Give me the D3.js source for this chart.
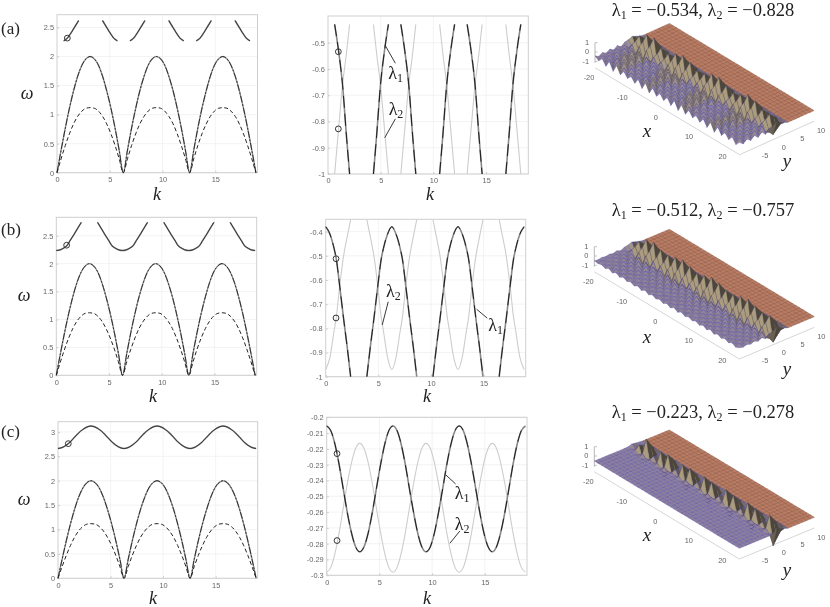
<!DOCTYPE html>
<html><head><meta charset="utf-8">
<script src="https://cdn.jsdelivr.net/npm/d3@7"></script>
<style>html,body{margin:0;background:#fff}svg{display:block;filter:blur(.45px)}
.tk{font:7.4px "Liberation Sans",sans-serif;fill:#666}
.lab{font-family:"Liberation Serif",serif;fill:#222}</style></head>
<body><svg id="c" width="830" height="607"></svg>
<script>
// ---------- values ----------
const kGrid=[0,.39,.79,1.18,1.57,1.96,2.36,2.75,3.14,3.53,3.93,4.32,4.71,5.11,5.50,5.89,6.28,6.68,7.07,7.46,7.85,8.25,8.64,9.03,9.42,9.82,10.21,10.60,11.00,11.39,11.78,12.17,12.57,12.96,13.35,13.74,14.14,14.53,14.92,15.32,15.71,16.10,16.49,16.89,17.28,17.67,18.06,18.46,18.85];
const omegaOptic=[0,.39,.77,1.11,1.41,1.66,1.85,1.96,2,1.96,1.85,1.66,1.41,1.11,.77,.39,0,.39,.77,1.11,1.41,1.66,1.85,1.96,2,1.96,1.85,1.66,1.41,1.11,.77,.39,0,.39,.77,1.11,1.41,1.66,1.85,1.96,2,1.96,1.85,1.66,1.41,1.11,.77,.39,0];
const omegaAcoustic=[0,.24,.47,.67,.84,.97,1.06,1.11,1.12,1.11,1.06,.97,.84,.67,.47,.24,0,.24,.47,.67,.84,.97,1.06,1.11,1.12,1.11,1.06,.97,.84,.67,.47,.24,0,.24,.47,.67,.84,.97,1.06,1.11,1.12,1.11,1.06,.97,.84,.67,.47,.24,0];
// panel (a): pieces separated by null
const kA=[.63,1,1.38,1.75,2.05,null,4.31,4.61,4.98,5.36,5.73,null,6.91,7.28,7.66,8.03,8.33,null,10.59,10.89,11.26,11.64,12.01,null,13.2,13.57,13.95,14.32,14.62,null,16.87,17.17,17.54,17.92,18.29];
const omegaTopA=[2.27,2.32,2.42,2.53,2.62,null,2.62,2.53,2.42,2.32,2.27,null,2.27,2.32,2.42,2.53,2.62,null,2.62,2.53,2.42,2.32,2.27,null,2.27,2.32,2.42,2.53,2.62,null,2.62,2.53,2.42,2.32,2.27];
const lambda1A=[-.43,-.53,-.66,-.855,-1,null,-1,-.855,-.66,-.53,-.43,null,-.43,-.53,-.66,-.855,-1,null,-1,-.855,-.66,-.53,-.43,null,-.43,-.53,-.66,-.855,-1,null,-1,-.855,-.66,-.53,-.43];
const lambda2A=[-1,-.83,-.66,-.54,-.43,null,-.43,-.54,-.66,-.83,-1,null,-1,-.83,-.66,-.54,-.43,null,-.43,-.54,-.66,-.83,-1,null,-1,-.83,-.66,-.54,-.43,null,-.43,-.54,-.66,-.83,-1];
// panel (b)
const kB=[0,.4,.8,1,1.33,1.7,2.05,2.37,null,3.91,4.23,4.58,4.95,5.28,5.48,5.88,6.28,6.68,7.08,7.28,7.61,7.98,8.33,8.65,null,10.19,10.51,10.86,11.23,11.56,11.76,12.16,12.57,12.97,13.37,13.57,13.9,14.27,14.62,14.94,null,16.48,16.8,17.15,17.52,17.85,18.05,18.45,18.85];
const omegaTopB=[2.235,2.25,2.29,2.32,2.42,2.53,2.64,2.74,null,2.74,2.64,2.53,2.42,2.32,2.29,2.25,2.235,2.25,2.29,2.32,2.42,2.53,2.64,2.74,null,2.74,2.64,2.53,2.42,2.32,2.29,2.25,2.235,2.25,2.29,2.32,2.42,2.53,2.64,2.74,null,2.74,2.64,2.53,2.42,2.32,2.29,2.25,2.235];
const lambda1B=[-.38,-.41,-.47,-.512,-.625,-.76,-.88,-1,null,-1,-.88,-.76,-.625,-.512,-.47,-.41,-.38,-.41,-.47,-.512,-.625,-.76,-.88,-1,null,-1,-.88,-.76,-.625,-.512,-.47,-.41,-.38,-.41,-.47,-.512,-.625,-.76,-.88,-1,null,-1,-.88,-.76,-.625,-.512,-.47,-.41,-.38];
const lambda2B=[-.97,-.92,-.81,-.757,-.625,-.5,-.42,-.35,null,-.35,-.42,-.5,-.625,-.757,-.81,-.92,-.97,-.92,-.81,-.757,-.625,-.5,-.42,-.35,null,-.35,-.42,-.5,-.625,-.757,-.81,-.92,-.97,-.92,-.81,-.757,-.625,-.5,-.42,-.35,null,-.35,-.42,-.5,-.625,-.757,-.81,-.92,-.97];
// panel (c), on kGrid
const omegaTopC=[2.66,2.68,2.73,2.8,2.89,2.98,3.05,3.1,3.12,3.1,3.05,2.98,2.89,2.8,2.73,2.68,2.66,2.68,2.73,2.8,2.89,2.98,3.05,3.1,3.12,3.1,3.05,2.98,2.89,2.8,2.73,2.68,2.66,2.68,2.73,2.8,2.89,2.98,3.05,3.1,3.12,3.1,3.05,2.98,2.89,2.8,2.73,2.68,2.66];
const lambda1C=[-.2055,-.2085,-.2172,-.23,-.2453,-.2605,-.2734,-.2821,-.2851,-.2821,-.2734,-.2605,-.2453,-.23,-.2172,-.2085,-.2055,-.2085,-.2172,-.23,-.2453,-.2605,-.2734,-.2821,-.2851,-.2821,-.2734,-.2605,-.2453,-.23,-.2172,-.2085,-.2055,-.2085,-.2172,-.23,-.2453,-.2605,-.2734,-.2821,-.2851,-.2821,-.2734,-.2605,-.2453,-.23,-.2172,-.2085,-.2055];
const lambda2C=[-.298,-.295,-.286,-.273,-.2573,-.2417,-.2285,-.2196,-.2165,-.2196,-.2285,-.2417,-.2573,-.273,-.286,-.295,-.298,-.295,-.286,-.273,-.2573,-.2417,-.2285,-.2196,-.2165,-.2196,-.2285,-.2417,-.2573,-.273,-.286,-.295,-.298,-.295,-.286,-.273,-.2573,-.2417,-.2285,-.2196,-.2165,-.2196,-.2285,-.2417,-.2573,-.273,-.286,-.295,-.298];
const kTicks=[0,5,10,15];
const omegaTicksAB=[0,.5,1,1.5,2,2.5], omegaTicksAB_txt=["0","0.5","1","1.5","2","2.5"];
const omegaTicksC=[0,.5,1,1.5,2,2.5,3], omegaTicksC_txt=["0","0.5","1","1.5","2","2.5","3"];
const lamTicksA=[-1,-.9,-.8,-.7,-.6,-.5], lamTicksA_txt=["-1","-0.9","-0.8","-0.7","-0.6","-0.5"];
const lamTicksB=[-1,-.9,-.8,-.7,-.6,-.5,-.4], lamTicksB_txt=["-1","-0.9","-0.8","-0.7","-0.6","-0.5","-0.4"];
const lamTicksC=[-.3,-.29,-.28,-.27,-.26,-.25,-.24,-.23,-.22,-.21,-.2], lamTicksC_txt=["-0.3","-0.29","-0.28","-0.27","-0.26","-0.25","-0.24","-0.23","-0.22","-0.21","-0.2"];
const rowLabels=["(a)","(b)","(c)"];
const marked=[[.98,2.317,-.534,-.828],[.98,2.33,-.512,-.757],[.98,2.76,-.223,-.278]];
const titleVals=[["−0.534","−0.828"],["−0.512","−0.757"],["−0.223","−0.278"]];
// surface tables: x = -20..20 (41), y = -10..10 (21)
const xAxisGrid=d3.range(-20,21), yAxisGrid=d3.range(-10,11);
const profileXA=[.25,-.35,.55,-.6,.9,-.75,.95,-.55,.6,-.4,.5,-.5,.8,-.7,.95,-.7,.8,-.5,.55,-.45,.65,-.6,.9,-.75,.95,-.6,.7,-.45,.5,-.45,.7,-.65,.95,-.75,.85,-.5,.55,-.45,.55,-.6,.35];
const profileXB=[.2,-.3,.5,-.65,.9,-.8,1,-.7,.8,-.6,.75,-.7,.9,-.8,1,-.75,.85,-.6,.7,-.65,.85,-.8,1,-.8,.9,-.65,.75,-.6,.75,-.7,.9,-.8,1,-.8,.85,-.6,.7,-.65,.8,-.75,.35];
const profileXC=[.1,-.1,.3,-.5,.95,-.4,.15,-.3,.7,-.9,.8,-.35,.15,-.3,.7,-.85,.75,-.3,.15,-.3,.8,-.9,.7,-.3,.1,-.35,.8,-.9,.7,-.3,.15,-.35,.8,-.9,.7,-.3,.15,-.4,.85,-.95,.3];
const profileYA=[.5,-.5,.5,-.5,.55,-.55,.6,-.65,.7,1,1.7,1,.4,0,0,0,0,0,0,0,0];
const profileYB=[.15,-.15,.18,-.2,.22,-.28,.35,-.45,.6,.95,1.7,1,.4,0,0,0,0,0,0,0,0];
const profileYC=[0,0,0,0,0,0,0,0,0,.2,1.7,1,.4,0,0,0,0,0,0,0,0];
const zTicks=[-1,0,1], xSurfTicks=[-20,-10,0,10,20], ySurfTicks=[-5,0,5,10];
const surfTitleY=[15.5,216,418], surfXLabelY=[137,343,541], surfYLabelY=[167,375,576];
// ---------- drawing ----------
const svg=d3.select("#c");
const defined=d=>d[0]!=null&&d[1]!=null;
const lineOf=(x,y)=>d3.line().defined(defined).x(d=>x(d[0])).y(d=>y(d[1])).curve(d3.curveMonotoneX);
const zip=(a,b)=>a.map((v,i)=>[v,b[i]]);

function frame(p,yTicks,yTxt){
  const x=d3.scaleLinear([0,19],[p.l,p.r]), y=d3.scaleLinear(p.yd,[p.b,p.t]);
  const g=svg.append("g");
  g.append("g").selectAll("line").data(kTicks.slice(1)).join("line").attr("x1",x).attr("x2",x).attr("y1",p.t).attr("y2",p.b).attr("stroke","#eee").attr("stroke-width",.7);
  g.append("g").selectAll("line").data(yTicks).join("line").attr("x1",p.l).attr("x2",p.r).attr("y1",y).attr("y2",y).attr("stroke","#eee").attr("stroke-width",.7);
  const ax=g.append("g").attr("transform",`translate(0,${p.b})`).call(d3.axisBottom(x).tickValues(kTicks).tickFormat(d3.format("d")).tickSize(-2).tickPadding(4));
  const ay=g.append("g").attr("transform",`translate(${p.l},0)`).call(d3.axisLeft(y).tickValues(yTicks).tickFormat((d,i)=>yTxt[i]).tickSize(-2).tickPadding(3));
  [ax,ay].forEach(a=>{a.select(".domain").remove();a.selectAll("line").attr("stroke","#aaa").attr("stroke-width",.6);a.selectAll("text").attr("class","tk").attr("style",null);a.attr("font-family",null).attr("font-size",null);});
  g.append("rect").attr("x",p.l).attr("y",p.t).attr("width",p.r-p.l).attr("height",p.b-p.t).attr("fill","none").attr("stroke","#cfcfcf").attr("stroke-width",1);
  return {x,y,g};
}
function stroke(f,s,col,w,dash){
  return f.g.append("path").attr("d",lineOf(f.x,f.y)(s)).attr("fill","none").attr("stroke",col).attr("stroke-width",w).attr("stroke-dasharray",dash||null).attr("stroke-linejoin","round");
}
function mark(f,k,v){f.g.append("circle").attr("cx",f.x(k)).attr("cy",f.y(v)).attr("r",2.9).attr("fill","none").attr("stroke","#333").attr("stroke-width",1);}
function lamLabel(f,n,k,v){
  const t=f.g.append("text").attr("class","lab").attr("x",f.x(k)).attr("y",f.y(v)).attr("dy",".33em").attr("text-anchor","middle").attr("font-size",18);
  t.append("tspan").text("λ");
  t.append("tspan").attr("font-size",12).attr("dy",3).text(n);
}
function lead(f,pts){f.g.append("path").attr("d",d3.line().x(d=>f.x(d[0])).y(d=>f.y(d[1]))(pts)).attr("fill","none").attr("stroke","#222").attr("stroke-width",.9);}
function kLabel(x,y){svg.append("text").attr("class","lab").attr("x",x).attr("y",y).attr("text-anchor","middle").attr("font-size",18).attr("font-style","italic").text("k");}
function omegaLabel(x,y){svg.append("text").attr("class","lab").attr("x",x).attr("y",y).attr("text-anchor","middle").attr("font-size",18).attr("font-style","italic").text("ω");}

const leftPanels=[
 {l:57,r:257.5,t:14.7,b:172.7,yd:[0,2.72],ticks:omegaTicksAB,txt:omegaTicksAB_txt,top:zip(kA,omegaTopA)},
 {l:56.3,r:256.7,t:217.3,b:375.3,yd:[0,2.83],ticks:omegaTicksAB,txt:omegaTicksAB_txt,top:zip(kB,omegaTopB)},
 {l:58,r:257.7,t:421.7,b:578.3,yd:[0,3.21],ticks:omegaTicksC,txt:omegaTicksC_txt,top:zip(kGrid,omegaTopC)}];
const midPanels=[
 {l:328,r:528.3,t:16,b:174,yd:[-1,-.398],ticks:lamTicksA,txt:lamTicksA_txt,l1:zip(kA,lambda1A),l2:zip(kA,lambda2A)},
 {l:325.7,r:525.7,t:219.3,b:376.7,yd:[-1,-.349],ticks:lamTicksB,txt:lamTicksB_txt,l1:zip(kB,lambda1B),l2:zip(kB,lambda2B)},
 {l:326.7,r:527,t:417.3,b:575.3,yd:[-.3,-.2],ticks:lamTicksC,txt:lamTicksC_txt,l1:zip(kGrid,lambda1C),l2:zip(kGrid,lambda2C)}];
const notes=[
 [[1,6.42,-.615,[[5.41,-.509],[6.39,-.578]]],[2,6.45,-.752,[[6.39,-.79],[5.38,-.862]]]],
 [[1,16.14,-.786,[[15.35,-.758],[14.34,-.721]]],[2,6.42,-.644,[[5.94,-.69],[5.37,-.786]]]],
 [[1,12.85,-.2481,[[12.23,-.2422],[11.31,-.2365]]],[2,12.85,-.2675,[[12.64,-.2719],[11.69,-.2797]]]]];
const labY=[[28,200,95],[229,402,297],[431,604,501]];

leftPanels.forEach((p,i)=>{
  const f=frame(p,p.ticks,p.txt);
  const up=zip(kGrid,omegaOptic), lo=zip(kGrid,omegaAcoustic);
  stroke(f,up,"#999",1.4); stroke(f,up,"#111",.8,"7 1.5 2 1.5");
  stroke(f,lo,"#222",1,"4 2.6");
  stroke(f,p.top,"#777",1.5); stroke(f,p.top,"#222",.7);
  mark(f,marked[i][0],marked[i][1]);
  svg.append("text").attr("class","lab").attr("x",1).attr("y",labY[i][0]).attr("dy",".33em").attr("font-size",17).text(rowLabels[i]);
  kLabel(i==0?157:153,labY[i][1]); omegaLabel(i==0?27:24,labY[i][2]+4);
});
midPanels.forEach((p,i)=>{
  const f=frame(p,p.ticks,p.txt);
  stroke(f,p.l2,"#cdcdcd",1.1);
  stroke(f,p.l1,"#888",1.6); stroke(f,p.l1,"#111",.9,"12 6");
  mark(f,marked[i][0],marked[i][2]); mark(f,marked[i][0],marked[i][3]);
  notes[i].forEach(n=>{lamLabel(f,n[0],n[1],n[2]);lead(f,n[3]);});
  kLabel(i==0?430:427,labY[i][1]);
});

// surfaces
const surf=[
 {A:[595,57],B:[739.5,144],D:[669.5,23.5],px:profileXA,py:profileYA},
 {A:[594.3,261],B:[739.3,348.3],D:[669.3,229.3],px:profileXB,py:profileYB},
 {A:[594.3,461],B:[739.3,548.3],D:[669.3,430],px:profileXC,py:profileYC}];
const sx=d3.scaleLinear([-20,20],[0,1]), sy=d3.scaleLinear([-10,10],[0,1]), sz=d3.scaleLinear([-1,1],[9.33,-9.33]);
const xOffX=d3.scaleLinear([-20,20],[-6,-17]), xOffY=d3.scaleLinear([-20,20],[12,3.5]);
const tan=d3.interpolateRgb("#8d7f9c","#ab9c80"), mid=d3.interpolateRgb("#8d7f9c","#6b6150"), dark=d3.interpolateRgb("#8d7f9c","#4c4539");
surf.forEach((s,pi)=>{
  const P=(x,y,z)=>[s.A[0]+sx(x)*(s.B[0]-s.A[0])+sy(y)*(s.D[0]-s.A[0]), s.A[1]+sx(x)*(s.B[1]-s.A[1])+sy(y)*(s.D[1]-s.A[1])+sz(z)];
  const Z=(i,j)=>s.px[i]*s.py[j];
  const g=svg.append("g");
  const flo=[P(-20,-10,-1.15),P(20,-10,-1.15),P(20,10,-1.15)];
  g.append("path").attr("d",d3.line()(flo)).attr("fill","none").attr("stroke","#ccc").attr("stroke-width",.8);
  xSurfTicks.forEach(t=>{const q=P(t,-10,-1);
    g.append("text").attr("class","tk").attr("x",q[0]+xOffX(t)).attr("y",q[1]+xOffY(t)+2).attr("text-anchor","middle").text(t);});
  ySurfTicks.forEach(t=>{const q=P(20,t,-1);
    g.append("text").attr("class","tk").attr("x",q[0]+7).attr("y",q[1]+13).attr("text-anchor","middle").text(t);});
  const z0=P(-20,-10,1), z1=P(-20,-10,-1.15);
  g.append("line").attr("x1",z0[0]).attr("x2",z1[0]).attr("y1",z0[1]-5).attr("y2",z1[1]-5).attr("stroke","#999").attr("stroke-width",.7);
  zTicks.forEach(t=>{const q=P(-20,-10,t);
    g.append("line").attr("x1",q[0]).attr("x2",q[0]+2.5).attr("y1",q[1]-5).attr("y2",q[1]-5).attr("stroke","#999").attr("stroke-width",.6);
    g.append("text").attr("class","tk").attr("x",q[0]-6).attr("y",q[1]-2.7).attr("text-anchor","end").text(t);});
  const cells=[];
  for(let i=0;i<xAxisGrid.length-1;i++)for(let j=0;j<yAxisGrid.length-1;j++){
    const x0=xAxisGrid[i],x1=xAxisGrid[i+1],y0=yAxisGrid[j],y1=yAxisGrid[j+1];
    const c=[[x0,y0,Z(i,j)],[x1,y0,Z(i+1,j)],[x1,y1,Z(i+1,j+1)],[x0,y1,Z(i,j+1)]];
    const zs=c.map(q=>q[2]);
    const range=d3.max(zs)-d3.min(zs);
    const fall=zs[0]+zs[3]-zs[1]-zs[2]+.4*(zs[1]+zs[3]-zs[0]-zs[2]);
    const key=P((x0+x1)/2,(y0+y1)/2,0)[1];
    cells.push({c,range,fall,y0,key});
  }
  cells.sort((a,b)=>a.key-b.key);
  g.append("g").selectAll("path").data(cells).join("path")
   .attr("d",d=>d3.line()(d.c.map(q=>P(q[0],q[1],q[2])))+"Z")
   .attr("fill",d=>{
     if(d.y0>=3) return "#b97c62";
     const t=Math.min(1,d.range*(d.y0<-2?.6:.9));
     if(d.y0>=0) return dark(t);
     return d.fall>0?tan(t):mid(t);})
   .attr("stroke",d=>d.y0>=3?"#8b5642":(d.range>.9?"#5a5060":"#4642a8"))
   .attr("stroke-width",d=>d.y0>=3?.45:.3);
  svg.append("text").attr("class","lab").attr("x",647).attr("y",surfXLabelY[pi]).attr("text-anchor","middle").attr("font-size",19).attr("font-style","italic").text("x");
  svg.append("text").attr("class","lab").attr("x",787).attr("y",surfYLabelY[pi]).attr("text-anchor","middle").attr("font-size",19).attr("font-style","italic").text("y");
  const t=svg.append("text").attr("class","lab").attr("x",703).attr("y",surfTitleY[pi]).attr("text-anchor","middle").attr("font-size",18.5);
  t.append("tspan").text("λ"); t.append("tspan").attr("font-size",12).attr("dy",3).text("1");
  t.append("tspan").attr("dy",-3).text(" = "+titleVals[pi][0]+", λ"); t.append("tspan").attr("font-size",12).attr("dy",3).text("2");
  t.append("tspan").attr("dy",-3).text(" = "+titleVals[pi][1]);
});
</script></body></html>
